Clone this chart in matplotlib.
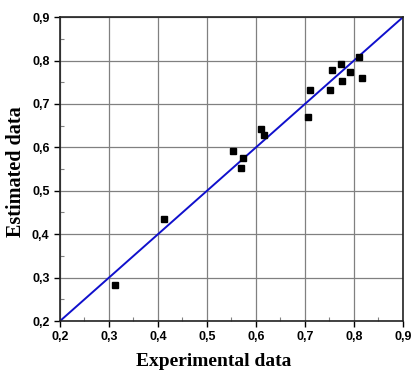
import matplotlib
matplotlib.use("Agg")
import matplotlib.pyplot as plt
from matplotlib.ticker import MultipleLocator, FuncFormatter

# experimental vs estimated values
experimental = [0.313, 0.412, 0.553, 0.569, 0.573, 0.610, 0.616, 0.707, 0.711,
                0.751, 0.756, 0.773, 0.776, 0.791, 0.810, 0.816]
estimated = [0.282, 0.435, 0.592, 0.553, 0.576, 0.643, 0.628, 0.669, 0.732,
             0.732, 0.779, 0.792, 0.753, 0.773, 0.807, 0.760]

line_x = [0.2, 0.9]
line_y = [0.2, 0.9]

fig = plt.figure(figsize=(4.12, 3.72), dpi=100)
ax = fig.add_axes([0.1456, 0.137, 0.8325, 0.817])

ax.grid(True, color="#808080", linewidth=0.9, zorder=0)
ax.plot(line_x, line_y, color="#1010cc", linewidth=1.4, zorder=2)
ax.plot(experimental, estimated, "s", color="black", markersize=4.5, zorder=3)

ax.set_xlim(0.2, 0.9)
ax.set_ylim(0.2, 0.9)
ax.xaxis.set_major_locator(MultipleLocator(0.1))
ax.yaxis.set_major_locator(MultipleLocator(0.1))
ax.xaxis.set_minor_locator(MultipleLocator(0.05))
ax.yaxis.set_minor_locator(MultipleLocator(0.05))

comma = FuncFormatter(lambda v, p: ("%.1f" % v).replace(".", ","))
ax.xaxis.set_major_formatter(comma)
ax.yaxis.set_major_formatter(comma)

ax.tick_params(which="major", direction="out", length=4, width=1, labelsize=9)
ax.tick_params(which="minor", direction="in", length=3, width=0.8, color="#808080")
for lab in ax.get_xticklabels() + ax.get_yticklabels():
    lab.set_fontfamily("Liberation Sans")
    lab.set_fontweight("bold")

for s in ax.spines.values():
    s.set_linewidth(1.2)
    s.set_color("#222222")

ax.set_xlabel("Experimental data", fontfamily="Liberation Serif",
              fontweight="bold", fontsize=14)
ax.xaxis.set_label_coords(0.449, -0.105)
ax.set_ylabel("Estimated data", fontfamily="Liberation Serif",
              fontweight="bold", fontsize=14.5)
ax.yaxis.set_label_coords(-0.098, 0.49)

fig.savefig("out.png", dpi=100)
